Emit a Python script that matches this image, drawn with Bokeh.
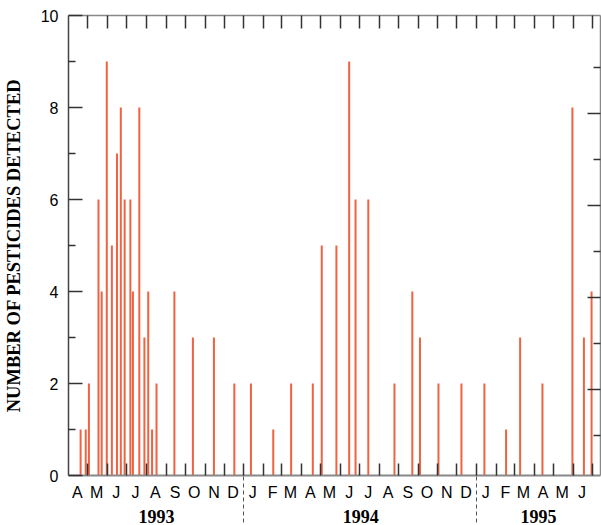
import pandas as pd
from bokeh.plotting import figure
from bokeh.models import Range1d, LinearAxis, FixedTicker
from bokeh.embed import file_html
from bokeh.resources import INLINE

# ---- data ----
sample_dates = [
    "1993-04-20", "1993-04-28", "1993-05-03", "1993-05-18", "1993-05-23", "1993-05-31",
    "1993-06-08", "1993-06-16", "1993-06-22", "1993-06-28", "1993-07-07", "1993-07-11",
    "1993-07-21", "1993-07-29", "1993-08-04", "1993-08-10", "1993-08-17", "1993-09-14",
    "1993-10-13", "1993-11-15", "1993-12-17",
    "1994-01-12", "1994-02-16", "1994-03-16", "1994-04-19", "1994-05-03", "1994-05-26",
    "1994-06-15", "1994-06-25", "1994-07-15", "1994-08-25", "1994-09-22", "1994-10-04",
    "1994-11-02", "1994-12-08",
    "1995-01-13", "1995-02-16", "1995-03-10", "1995-04-14", "1995-05-31", "1995-06-18",
    "1995-06-30",
]
pesticides_detected = [
    1, 1, 2, 6, 4, 9,
    5, 7, 8, 6, 6, 4,
    8, 3, 4, 1, 2, 4,
    3, 3, 2,
    2, 1, 2, 2, 5, 5,
    9, 6, 6, 2, 4, 3,
    2, 2,
    2, 1, 3, 2, 8, 3,
    4,
]
month_letters = ["A", "M", "J", "J", "A", "S", "O", "N", "D",
                 "J", "F", "M", "A", "M", "J", "J", "A", "S", "O", "N", "D",
                 "J", "F", "M", "A", "M", "J"]
year_labels = ["1993", "1994", "1995"]
year_starts = ["1994-01-01", "1995-01-01"]
y_major_ticks = [0, 2, 4, 6, 8, 10]
y_minor_ticks = [1, 3, 5, 7, 9]
y_label = "NUMBER OF PESTICIDES DETECTED"
axis_start = "1993-04-01"
axis_end = "1995-07-14"

# ---- derived positions (days since axis start) ----
t0 = pd.Timestamp(axis_start)


def day(d):
    return int((pd.Timestamp(d) - t0).days)


xs = [day(d) for d in sample_dates]
x_end = day(axis_end)
month_starts = pd.date_range(axis_start, "1995-07-01", freq="MS")
boundaries = [day(m) for m in month_starts[1:]]
mids = [day(m) + 14 for m in month_starts[:-1]]
ystarts = [day(d) for d in year_starts]
edges = [0] + ystarts + [x_end]
year_centers = [int(round((edges[i] + edges[i + 1]) / 2)) for i in range(len(year_labels))]

BAR = "#EF6242"
TICK = "#333333"
AXL = "#888888"
SANS = "Liberation Sans"
SERIF = "Liberation Serif"

p = figure(width=601, height=525, x_range=Range1d(0, x_end), y_range=Range1d(0, 10),
           output_backend="svg", toolbar_location=None,
           x_axis_location=None, y_axis_location=None,
           min_border_left=68, min_border_right=1, min_border_top=15, min_border_bottom=0)
p.outline_line_color = None
p.background_fill_color = "white"
p.border_fill_color = "white"
p.grid.visible = False
p.extra_y_ranges = {"right": Range1d(0.13, 10.13)}

p.segment(x0=xs, y0=[0] * len(xs), x1=xs, y1=pesticides_detected,
          line_width=2, line_color=BAR, line_cap="butt")

# left axis
yl = LinearAxis(ticker=FixedTicker(ticks=y_major_ticks, minor_ticks=y_minor_ticks),
                axis_label=y_label,
                axis_label_text_font=SERIF, axis_label_text_font_style="bold",
                axis_label_text_font_size="18.5px", axis_label_text_color="black",
                axis_label_standoff=14,
                major_label_text_font=SANS, major_label_text_font_size="16px",
                major_label_text_color="black", major_label_standoff=10,
                major_tick_in=14, major_tick_out=0, minor_tick_in=7, minor_tick_out=0,
                axis_line_color="#444444", axis_line_width=1.5,
                major_tick_line_color=TICK, minor_tick_line_color=TICK,
                major_tick_line_width=1.5, minor_tick_line_width=1.5)
p.add_layout(yl, "left")

# right side: tick marks only (long at even, short at odd)
yr_long = LinearAxis(y_range_name="right",
                     ticker=FixedTicker(ticks=[], minor_ticks=[2, 4, 6, 8]),
                     major_label_standoff=0, major_tick_in=0, major_tick_out=0,
                     minor_tick_in=13, minor_tick_out=0,
                     axis_line_color=AXL, axis_line_width=1.5,
                     minor_tick_line_color=TICK, minor_tick_line_width=1.5)
p.add_layout(yr_long, "right")
yr_short = LinearAxis(y_range_name="right",
                      ticker=FixedTicker(ticks=[], minor_ticks=y_minor_ticks),
                      major_label_standoff=0, major_tick_in=0, major_tick_out=0,
                      minor_tick_in=7, minor_tick_out=0,
                      axis_line_color=None,
                      minor_tick_line_color=TICK, minor_tick_line_width=1.5)
p.add_layout(yr_short, "right")

# top axis: month ticks only
xt = LinearAxis(ticker=FixedTicker(ticks=[], minor_ticks=boundaries),
                major_label_standoff=0, major_tick_in=0, major_tick_out=0,
                minor_tick_in=13, minor_tick_out=0,
                axis_line_color=AXL, axis_line_width=1.5,
                minor_tick_line_color=TICK, minor_tick_line_width=1.5)
p.add_layout(xt, "above")

# bottom axis: month ticks + month letters
xm = LinearAxis(ticker=FixedTicker(ticks=mids, minor_ticks=boundaries),
                major_label_overrides={m: l for m, l in zip(mids, month_letters)},
                major_label_text_font=SANS, major_label_text_font_size="16px",
                major_label_text_color="black", major_label_standoff=8,
                major_tick_in=0, major_tick_out=0, minor_tick_in=12, minor_tick_out=0,
                axis_line_color=AXL, axis_line_width=2,
                minor_tick_line_color=TICK, minor_tick_line_width=1.5)
p.add_layout(xm, "below")

# year axis: year labels + dashed separators
xy = LinearAxis(ticker=FixedTicker(ticks=year_centers, minor_ticks=ystarts),
                major_label_overrides={c: l for c, l in zip(year_centers, year_labels)},
                major_label_text_font=SERIF, major_label_text_font_style="bold",
                major_label_text_font_size="18px", major_label_text_color="black",
                major_label_standoff=-13,
                major_tick_in=0, major_tick_out=0, minor_tick_in=28, minor_tick_out=19,
                axis_line_color=None,
                minor_tick_line_color="#555555", minor_tick_line_width=1,
                minor_tick_line_dash="4 3")
p.add_layout(xy, "below")

open("out.html", "w").write(file_html(p, INLINE))
